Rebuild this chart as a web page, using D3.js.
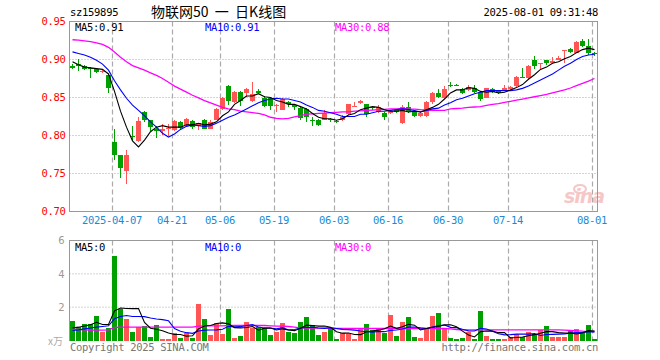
<!DOCTYPE html>
<html><head><meta charset="utf-8">
<script src="https://cdn.jsdelivr.net/npm/d3@7"></script>
<style>body{margin:0;background:#fff}svg{display:block}</style>
</head><body><svg id="c" width="660" height="360"></svg>
<script>
const dates = ["03-26","03-27","03-28","03-31","04-01","04-02","04-03","04-07","04-08","04-09",
"04-10","04-11","04-14","04-15","04-16","04-17","04-18","04-21","04-22","04-23",
"04-24","04-25","04-28","04-29","04-30","05-06","05-07","05-08","05-09","05-12",
"05-13","05-14","05-15","05-16","05-19","05-20","05-21","05-22","05-23","05-26",
"05-27","05-28","05-29","05-30","06-03","06-04","06-05","06-06","06-09","06-10",
"06-11","06-12","06-13","06-16","06-17","06-18","06-19","06-20","06-23","06-24",
"06-25","06-26","06-27","06-30","07-01","07-02","07-03","07-04","07-07","07-08",
"07-09","07-10","07-11","07-14","07-15","07-16","07-17","07-18","07-21","07-22",
"07-23","07-24","07-25","07-28","07-29","07-30","07-31","08-01"];
const open = [0.892,0.894,0.892,0.889,0.887,0.884,0.879,0.792,0.774,0.753,
0.800,0.793,0.831,0.820,0.809,0.806,0.808,0.807,0.818,0.814,
0.819,0.813,0.821,0.809,0.821,0.835,0.865,0.844,0.857,0.856,
0.845,0.859,0.850,0.849,0.839,0.834,0.844,0.840,0.836,0.835,
0.820,0.821,0.821,0.822,0.819,0.821,0.828,0.838,0.843,0.841,
0.838,0.831,0.830,0.829,0.833,0.817,0.838,0.831,0.826,0.826,
0.844,0.856,0.849,0.867,0.867,0.861,0.860,0.862,0.857,0.850,
0.861,0.858,0.860,0.861,0.865,0.877,0.876,0.900,0.895,0.899,
0.896,0.900,0.912,0.914,0.909,0.925,0.918,0.908];
const high = [0.894,0.901,0.893,0.890,0.888,0.886,0.881,0.808,0.775,0.781,
0.812,0.825,0.832,0.821,0.812,0.815,0.815,0.820,0.819,0.823,
0.821,0.817,0.822,0.820,0.836,0.851,0.866,0.858,0.858,0.862,
0.871,0.861,0.852,0.850,0.842,0.849,0.845,0.842,0.837,0.836,
0.824,0.822,0.833,0.823,0.821,0.827,0.842,0.844,0.847,0.842,
0.839,0.840,0.831,0.833,0.834,0.840,0.844,0.832,0.831,0.845,
0.857,0.861,0.865,0.870,0.868,0.862,0.866,0.866,0.858,0.863,
0.862,0.859,0.866,0.865,0.878,0.889,0.893,0.905,0.896,0.900,
0.903,0.904,0.913,0.915,0.924,0.927,0.927,0.910];
const low = [0.887,0.885,0.886,0.876,0.882,0.882,0.856,0.768,0.744,0.736,
0.793,0.792,0.818,0.806,0.797,0.801,0.799,0.806,0.807,0.812,
0.808,0.807,0.808,0.808,0.820,0.833,0.840,0.843,0.839,0.851,
0.844,0.854,0.838,0.834,0.831,0.833,0.838,0.834,0.821,0.818,
0.813,0.813,0.820,0.818,0.817,0.819,0.827,0.838,0.842,0.825,
0.834,0.829,0.820,0.828,0.829,0.815,0.829,0.824,0.825,0.825,
0.842,0.849,0.848,0.864,0.865,0.855,0.859,0.856,0.845,0.849,
0.856,0.855,0.859,0.860,0.864,0.876,0.875,0.888,0.886,0.893,
0.894,0.899,0.896,0.908,0.908,0.917,0.906,0.905];
const close = [0.889,0.892,0.888,0.888,0.883,0.885,0.862,0.774,0.757,0.775,
0.798,0.819,0.820,0.811,0.806,0.809,0.810,0.819,0.810,0.822,
0.811,0.816,0.809,0.818,0.835,0.850,0.845,0.857,0.845,0.861,
0.854,0.856,0.839,0.839,0.840,0.848,0.841,0.838,0.823,0.824,
0.819,0.814,0.830,0.821,0.818,0.825,0.841,0.839,0.845,0.828,
0.836,0.837,0.825,0.832,0.831,0.838,0.831,0.826,0.830,0.844,
0.856,0.851,0.861,0.866,0.866,0.856,0.864,0.857,0.848,0.862,
0.857,0.856,0.862,0.864,0.877,0.876,0.892,0.892,0.896,0.896,
0.898,0.902,0.913,0.910,0.923,0.918,0.909,0.907];
const ma5 = [0.897,0.893,0.890,0.889,0.888,0.887,0.881,0.858,0.832,0.811,
0.793,0.785,0.794,0.805,0.811,0.813,0.811,0.811,0.811,0.814,
0.814,0.816,0.814,0.815,0.818,0.826,0.831,0.841,0.846,0.852,
0.852,0.855,0.851,0.850,0.846,0.844,0.841,0.841,0.838,0.835,
0.829,0.824,0.822,0.822,0.820,0.822,0.827,0.829,0.834,0.836,
0.838,0.837,0.834,0.832,0.832,0.833,0.831,0.832,0.831,0.834,
0.837,0.841,0.848,0.856,0.860,0.860,0.863,0.862,0.858,0.857,
0.858,0.856,0.857,0.860,0.863,0.867,0.874,0.880,0.887,0.890,
0.895,0.897,0.901,0.904,0.909,0.913,0.915,0.913];
const ma10 = [0.910,0.908,0.906,0.903,0.899,0.894,0.886,0.872,0.860,0.849,
0.840,0.833,0.826,0.818,0.811,0.803,0.798,0.802,0.808,0.812,
0.814,0.813,0.812,0.813,0.816,0.820,0.824,0.827,0.831,0.835,
0.839,0.843,0.846,0.848,0.849,0.848,0.848,0.846,0.844,0.840,
0.837,0.833,0.832,0.830,0.828,0.825,0.825,0.825,0.828,0.828,
0.830,0.832,0.832,0.833,0.834,0.835,0.834,0.833,0.831,0.833,
0.835,0.836,0.840,0.843,0.847,0.849,0.852,0.855,0.857,0.859,
0.859,0.859,0.859,0.859,0.860,0.862,0.865,0.869,0.873,0.877,
0.881,0.886,0.891,0.895,0.900,0.904,0.906,0.907];
const ma30 = [0.926,0.9255,0.9245,0.9235,0.922,0.920,0.916,0.910,0.903,0.897,
0.892,0.889,0.886,0.8825,0.879,0.875,0.870,0.865,0.861,0.857,
0.853,0.8495,0.846,0.843,0.840,0.837,0.835,0.834,0.832,0.831,
0.830,0.829,0.827,0.824,0.8225,0.822,0.8225,0.8245,0.826,0.828,
0.8285,0.829,0.8295,0.830,0.8305,0.831,0.8312,0.832,0.8325,0.833,
0.8335,0.834,0.8345,0.835,0.835,0.8355,0.835,0.8348,0.834,0.8335,
0.8332,0.833,0.833,0.835,0.8355,0.836,0.837,0.8375,0.838,0.8395,
0.841,0.842,0.8435,0.845,0.8465,0.848,0.8495,0.851,0.8525,0.854,
0.856,0.858,0.860,0.8625,0.8655,0.8685,0.8715,0.875];
const volume = [1.18,0.80,1.00,1.00,1.48,0.54,0.78,5.08,1.88,1.30,
0.52,0.80,0.88,0.22,0.94,0.10,0.10,0.46,0.18,0.48,
0.18,2.20,1.32,0.34,1.04,0.40,1.90,0.18,0.28,1.12,
0.74,0.80,0.74,0.34,0.54,1.06,0.54,0.46,1.12,1.42,
0.94,0.34,0.52,0.74,0.10,0.48,0.40,0.10,0.68,1.00,
0.64,0.70,0.48,1.54,0.28,1.12,1.42,0.22,0.16,0.68,
1.48,1.66,0.70,0.16,0.10,0.16,0.52,0.10,1.78,0.28,
0.10,0.10,0.10,0.22,0.40,0.22,0.52,0.40,0.64,0.88,
0.22,0.22,0.22,0.64,0.70,0.46,0.94,0.10];
const volMa5 = [0.75,0.80,0.87,0.95,1.09,0.96,0.96,1.78,1.95,1.92,
1.91,1.92,1.08,0.74,0.67,0.59,0.45,0.36,0.36,0.26,
0.28,0.70,0.87,0.90,1.02,1.06,1.00,0.77,0.76,0.78,
0.84,0.62,0.74,0.75,0.63,0.70,0.64,0.59,0.74,0.92,
0.90,0.86,0.87,0.79,0.53,0.44,0.45,0.36,0.35,0.53,
0.56,0.62,0.70,0.87,0.73,0.82,0.97,0.92,0.64,0.72,
0.79,0.84,0.94,0.94,0.82,0.56,0.33,0.21,0.53,0.57,
0.56,0.47,0.47,0.16,0.18,0.21,0.29,0.35,0.44,0.53,
0.53,0.47,0.44,0.44,0.40,0.45,0.59,0.57];
const volMa10 = [0.60,0.64,0.70,0.75,0.80,0.84,0.88,1.30,1.44,1.50,
1.44,1.44,1.43,1.35,1.29,1.25,1.18,0.72,0.55,0.47,
0.43,0.57,0.62,0.63,0.64,0.67,0.85,0.82,0.83,0.90,
0.95,0.81,0.75,0.75,0.70,0.77,0.63,0.66,0.75,0.78,
0.80,0.75,0.73,0.77,0.72,0.67,0.65,0.62,0.57,0.53,
0.50,0.54,0.53,0.61,0.63,0.69,0.80,0.81,0.76,0.72,
0.81,0.90,0.93,0.79,0.77,0.67,0.58,0.57,0.73,0.69,
0.56,0.40,0.34,0.35,0.38,0.38,0.38,0.41,0.30,0.36,
0.37,0.38,0.39,0.44,0.47,0.49,0.53,0.50];
const volMa30 = [0.68,0.66,0.64,0.62,0.62,0.62,0.64,0.78,0.80,0.80,
0.80,0.80,0.80,0.80,0.80,0.80,0.80,0.80,0.80,0.80,
0.80,0.86,0.88,0.88,0.88,0.88,0.90,0.90,0.90,0.90,
0.90,0.90,0.90,0.88,0.86,0.86,0.84,0.80,0.76,0.75,
0.75,0.74,0.74,0.73,0.72,0.72,0.72,0.72,0.72,0.72,
0.72,0.72,0.72,0.72,0.72,0.72,0.72,0.72,0.72,0.72,
0.72,0.72,0.72,0.70,0.66,0.64,0.64,0.64,0.64,0.64,
0.64,0.64,0.64,0.64,0.64,0.64,0.64,0.64,0.64,0.64,
0.64,0.64,0.62,0.60,0.58,0.56,0.55,0.55];
const priceTicks = [0.95, 0.90, 0.85, 0.80, 0.75, 0.70];
const volTicks = [6, 4, 2];
const tickDates = ["04-07","04-21","05-06","05-19","06-03","06-16","06-30","07-14","08-01"];
const tickLabels = ["2025-04-07","04-21","05-06","05-19","06-03","06-16","06-30","07-14","08-01"];

const svg = d3.select("#c");
const mono = "'DejaVu Sans Mono', monospace";
const RED = "#ff5555", GREEN = "#00a000";
const L = 69.5, R = 597.5, T = 21.5, B = 211.5, VT = 240.5, VB = 340.5;

const x = d3.scaleBand().domain(dates).range([L, R]).paddingInner(1/6).paddingOuter(1/12);
const bw = x.bandwidth();
const cx = d => x(d) + bw / 2;
const y = d3.scaleLinear().domain([0.70, 0.95]).range([B, T]);
const yv = d3.scaleLinear().domain([0, 6]).range([VB, VT]);
const idx = d3.range(dates.length);
const up = i => close[i] >= open[i];

// title row
svg.append("text").attr("x", 70).attr("y", 16).attr("font-family", mono).attr("font-size", 10.5)
  .attr("letter-spacing", -0.3).text("sz159895");
svg.append("text").attr("x", 151).attr("y", 17).attr("font-family", "'Noto Sans CJK SC', sans-serif")
  .attr("font-size", 14).attr("xml:space", "preserve").style("white-space", "pre").text("物联网50  一  日K线图");
svg.append("text").attr("x", 598).attr("y", 16).attr("text-anchor", "end").attr("font-family", mono)
  .attr("font-size", 10.5).attr("letter-spacing", -0.3).text("2025-08-01 09:31:48");

// grids
const grid = svg.append("g");
grid.selectAll(".hg").data(priceTicks.slice(1, -1)).join("line")
  .attr("x1", L).attr("x2", R).attr("y1", d => y(d)).attr("y2", d => y(d))
  .attr("stroke", "#aaa").attr("stroke-dasharray", "1,2");
grid.selectAll(".vg").data(volTicks.slice(1)).join("line")
  .attr("x1", L).attr("x2", R).attr("y1", d => yv(d)).attr("y2", d => yv(d))
  .attr("stroke", "#aaa").attr("stroke-dasharray", "1,2");
[[T, B], [VT, VB]].forEach(([a, b]) => {
  grid.append("g").selectAll("line").data(tickDates).join("line")
    .attr("x1", d => x(d) + 0.5).attr("x2", d => x(d) + 0.5).attr("y1", a).attr("y2", b)
    .attr("stroke", "#aaa").attr("stroke-width", 1.2).attr("stroke-dasharray", "5,3");
});

// sina watermark
const wm = svg.append("g").attr("opacity", 0.55);
wm.append("text").attr("x", 564).attr("y", 203).attr("font-family", "'DejaVu Sans', sans-serif")
  .attr("font-weight", "bold").attr("font-style", "italic").attr("font-size", 19)
  .attr("fill", "#ef9a9a").attr("letter-spacing", -1).text("sina");
wm.append("ellipse").attr("cx", 580).attr("cy", 189).attr("rx", 6).attr("ry", 4)
  .attr("fill", "none").attr("stroke", "#ef9a9a").attr("stroke-width", 2);

// candles
const cg = svg.append("g").attr("shape-rendering", "crispEdges");
cg.selectAll("line").data(idx).join("line")
  .attr("x1", i => Math.floor(cx(dates[i])) + 0.5).attr("x2", i => Math.floor(cx(dates[i])) + 0.5)
  .attr("y1", i => y(high[i])).attr("y2", i => y(low[i]))
  .attr("stroke", i => up(i) ? RED : GREEN);
cg.selectAll("rect").data(idx).join("rect")
  .attr("x", i => x(dates[i])).attr("width", bw)
  .attr("y", i => y(Math.max(open[i], close[i])))
  .attr("height", i => Math.max(1, Math.abs(y(open[i]) - y(close[i]))))
  .attr("fill", i => up(i) ? RED : GREEN);

// MA lines
const lx = i => Math.floor(cx(dates[i])) + 0.5;
const drawLine = (data, sc, color, w) => svg.append("path")
  .attr("d", d3.line().x(lx).y(i => sc(data[i]))(idx))
  .attr("fill", "none").attr("stroke", color).attr("stroke-width", w);
drawLine(ma30, y, "#ff00ff", 1.3);
drawLine(ma10, y, "#0000ff", 1.1);
drawLine(ma5, y, "#000000", 1.1);

// volume bars
const vg = svg.append("g").attr("shape-rendering", "crispEdges");
vg.selectAll("rect").data(idx).join("rect")
  .attr("x", i => x(dates[i])).attr("width", bw)
  .attr("y", i => yv(volume[i])).attr("height", i => VB - yv(volume[i]))
  .attr("fill", i => up(i) ? RED : GREEN);
drawLine(volMa30, yv, "#ff00ff", 1.3);
drawLine(volMa10, yv, "#0000ff", 1.1);
drawLine(volMa5, yv, "#000000", 1.1);

// borders
const bd = svg.append("g").attr("fill", "none").attr("stroke", "#999").attr("shape-rendering", "crispEdges");
bd.append("rect").attr("x", L).attr("y", T).attr("width", R - L).attr("height", B - T);
bd.append("path").attr("d", `M${L},${VB}V${VT}H${R}V${VB}`);

// price axis
const ya = svg.append("g").attr("transform", `translate(${L},0)`)
  .call(d3.axisLeft(y).tickValues(priceTicks).tickFormat(d3.format(".2f")).tickSize(0).tickPadding(4));
ya.select(".domain").remove();
ya.selectAll("text").attr("fill", "#f00").attr("font-family", mono).attr("font-size", 10.5)
  .attr("letter-spacing", -0.3);

// volume axis
const va = svg.append("g").attr("transform", `translate(${L},0)`)
  .call(d3.axisLeft(yv).tickValues(volTicks).tickFormat(d3.format("d")).tickSize(0).tickPadding(5));
va.select(".domain").remove();
va.selectAll("text").attr("fill", "#999").attr("font-family", "'DejaVu Sans', sans-serif").attr("font-size", 10);

// date axis
const xa = svg.append("g").attr("transform", `translate(${-bw / 2},${B})`)
  .call(d3.axisBottom(x).tickValues(tickDates).tickSize(0).tickPadding(5)
    .tickFormat((d, i) => tickLabels[i]));
xa.select(".domain").remove();
xa.selectAll("text").attr("fill", "#1a8ad4").attr("font-family", mono).attr("font-size", 10.5)
  .attr("letter-spacing", -0.3);

// MA legends
const leg = (yy, items) => items.forEach(([t, c, xx]) => svg.append("text").attr("x", xx).attr("y", yy)
  .attr("fill", c).attr("font-family", mono).attr("font-size", 10.5).attr("letter-spacing", -0.3).text(t));
leg(31, [["MA5:0.91", "#000", 75], ["MA10:0.91", "#0000ff", 205], ["MA30:0.88", "#ff00ff", 335]]);
leg(251, [["MA5:0", "#000", 75], ["MA10:0", "#0000ff", 205], ["MA30:0", "#ff00ff", 335]]);

// footer
svg.append("text").attr("x", 48).attr("y", 345).attr("fill", "#aaa").attr("font-family", "'Noto Sans CJK SC', sans-serif")
  .attr("font-size", 10).text("x万");
svg.append("text").attr("x", 70).attr("y", 351).attr("fill", "#777").attr("font-family", mono)
  .attr("font-size", 10.5).attr("letter-spacing", -0.3).text("Copyright 2025 SINA.COM");
svg.append("text").attr("x", 598).attr("y", 351).attr("text-anchor", "end").attr("fill", "#777")
  .attr("font-family", mono).attr("font-size", 10.5).attr("letter-spacing", -0.3).text("http://finance.sina.com.cn");
</script></body></html>
